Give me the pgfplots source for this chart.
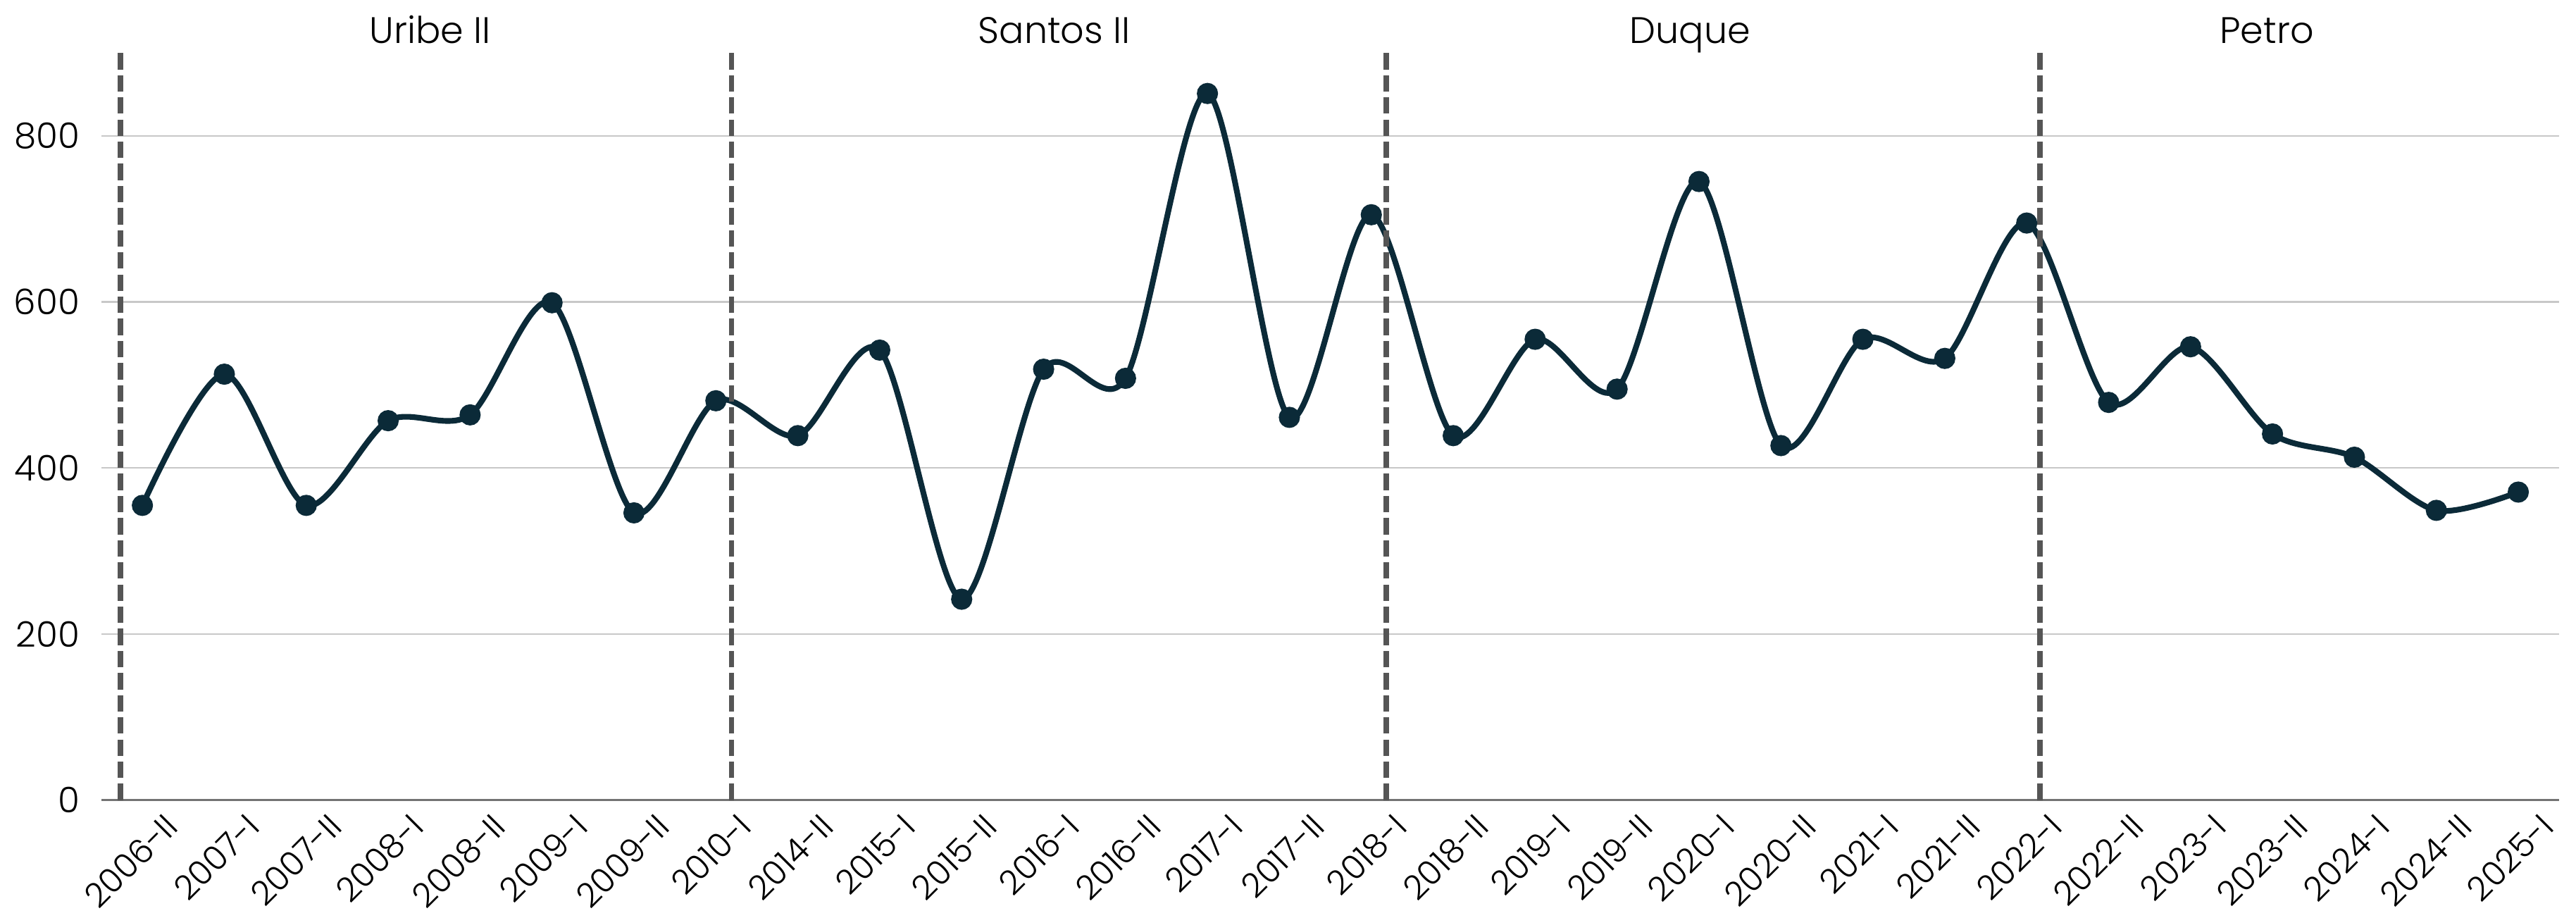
\documentclass[border=0pt]{standalone}
\usepackage{fontspec}
\setmainfont{Poppins Light}
\usepackage{pgfplots}
\pgfplotsset{compat=1.18}

\definecolor{linecol}{HTML}{0B2A38}
\definecolor{gridcol}{HTML}{C8C8C8}
\definecolor{sepcol}{HTML}{555555}

\begin{document}
\begin{tikzpicture}
\begin{axis}[
    at={(0,0)}, anchor=south west,
    scale only axis,
    width=732.7pt, height=224pt,
    xmin=-0.5, xmax=29.5,
    ymin=0, ymax=905,
    axis x line=bottom, axis y line=left,
    axis line style={-},
    x axis line style={draw=black!55, line width=0.6pt},
    y axis line style={draw=none},
    major tick length=0pt,
    ytick={0,200,400,600,800},
    ymajorgrids,
    grid style={gridcol, line width=0.5pt},
    xtick={0,...,29},
    xticklabels={2006-II,2007-I,2007-II,2008-I,2008-II,2009-I,2009-II,2010-I,2014-II,2015-I,2015-II,2016-I,2016-II,2017-I,2017-II,2018-I,2018-II,2019-I,2019-II,2020-I,2020-II,2021-I,2021-II,2022-I,2022-II,2023-I,2023-II,2024-I,2024-II,2025-I},
    xticklabel style={xshift=6pt, yshift=1.5pt, rotate=45, anchor=north east, font=\fontsize{10}{12}\selectfont},
    yticklabel style={xshift=-3pt, font=\fontsize{10.5}{12}\selectfont},
    /pgf/number format/assume math mode=true,
    clip=false,
]
\addplot[linecol, line width=1.7pt, smooth, tension=0.5, mark=*, mark size=2.3pt] coordinates {
    (0,355) (1,513) (2,355) (3,457) (4,464) (5,599) (6,346) (7,481)
    (8,439) (9,542) (10,242) (11,519) (12,508) (13,851) (14,461) (15,705)
    (16,439) (17,555) (18,495) (19,745) (20,427) (21,555) (22,532) (23,695)
    (24,479) (25,546) (26,441) (27,413) (28,349) (29,371)
};
\addplot[sepcol, line width=1.6pt, dash pattern=on 4.9pt off 1.7pt] coordinates {(-0.27,0) (-0.27,905)};
\addplot[sepcol, line width=1.6pt, dash pattern=on 4.9pt off 1.7pt] coordinates {(7.19,0) (7.19,905)};
\addplot[sepcol, line width=1.6pt, dash pattern=on 4.9pt off 1.7pt] coordinates {(15.18,0) (15.18,905)};
\addplot[sepcol, line width=1.6pt, dash pattern=on 4.9pt off 1.7pt] coordinates {(23.16,0) (23.16,905)};
\node[anchor=base, yshift=1.5pt, font=\fontsize{11}{13}\selectfont] at (axis cs:3.51,905) {Uribe II};
\node[anchor=base, yshift=1.5pt, font=\fontsize{11}{13}\selectfont] at (axis cs:11.13,905) {Santos II};
\node[anchor=base, yshift=1.5pt, font=\fontsize{11}{13}\selectfont] at (axis cs:18.89,905) {Duque};
\node[anchor=base, yshift=1.5pt, font=\fontsize{11}{13}\selectfont] at (axis cs:25.93,905) {Petro};
\end{axis}
\pgfresetboundingbox
\path[use as bounding box] (-30.24pt,-34.97pt) rectangle (737.7pt,238.5pt);
\end{tikzpicture}
\end{document}
